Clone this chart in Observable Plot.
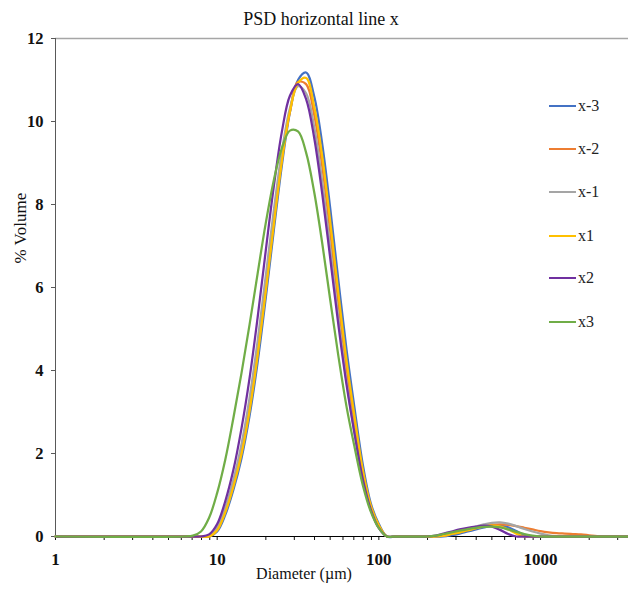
<!DOCTYPE html>
<html>
<head>
<meta charset="utf-8">
<script src="https://cdn.jsdelivr.net/npm/d3@7"></script>
<script src="https://cdn.jsdelivr.net/npm/@observablehq/plot@0.6"></script>
<style>
  html, body { margin: 0; padding: 0; background: #fff; }
  #wrap { position: relative; width: 628px; height: 595px; font-family: "Liberation Serif", "Times New Roman", serif; }
  .lg { position: absolute; left: 549px; height: 20px; display: flex; align-items: center; font-size: 16px; color: #222; }
  .lg span.sw { display: inline-block; width: 27px; height: 2.5px; margin-right: 2px; }
</style>
</head>
<body>
<div id="wrap"></div>
<script>
// Particle diameters (µm)
const diameters = [1,
  6.310, 7.079, 7.943, 8.913,
  10.00, 11.22, 12.59, 14.13, 15.85, 17.78, 19.95, 22.39, 25.12, 28.18,
  31.62, 35.48, 39.81, 44.67, 50.12, 56.23, 63.10, 70.79, 79.43, 89.13,
  100.0, 112.2,
  125.9, 141.3, 158.5, 177.8, 199.5, 223.9,
  251.2, 281.8, 316.2, 354.8, 398.1, 446.7, 501.2, 562.3, 631.0, 707.9, 794.3, 891.3,
  1000, 1122, 1259, 1413, 1585, 1778, 1995, 2239, 2512, 2818, 3162, 3548];

const seriesNames = ["x-3", "x-2", "x-1", "x1", "x2", "x3"];
const seriesColors = ["#4472C4", "#ED7D31", "#A5A5A5", "#FFC000", "#7030A0", "#70AD47"];

const xMinus3 = [0, 0,0,0,0,
  0.12,0.52,1.12,1.88,2.90,4.19,5.73,7.37,8.94,10.22,11.0,11.18,10.61,9.45,7.88,6.16,4.50,3.08,1.75,0.8,0.3,0,
  0,0,0,0,0,0,
  0,0.03,0.07,0.12,0.17,0.22,0.26,0.27,0.22,0.13,0.04,0,
  0,0,0,0,0,0,0,0,0,0,0,0];
const xMinus2 = [0, 0,0,0,0,
  0.18,0.62,1.25,2.06,3.12,4.45,5.99,7.60,9.09,10.24,10.95,10.9,10.17,8.92,7.32,5.63,4.05,2.73,1.55,0.7,0.25,0,
  0,0,0,0,0,0,
  0.02,0.06,0.1,0.15,0.2,0.25,0.28,0.29,0.28,0.25,0.21,0.17,
  0.13,0.1,0.08,0.07,0.06,0.05,0.03,0.01,0,0,0,0];
const xMinus1 = [0, 0,0,0,0.02,
  0.22,0.7,1.36,2.22,3.33,4.70,6.26,7.85,9.27,10.32,10.85,10.68,9.87,8.54,6.92,5.25,3.73,2.48,1.4,0.65,0.22,0,
  0,0,0,0,0,0,
  0.03,0.07,0.12,0.18,0.24,0.29,0.33,0.34,0.31,0.25,0.18,0.12,
  0.07,0.03,0.01,0,0,0,0,0,0,0,0,0];
const xPlus1 = [0, 0,0,0,0,
  0.15,0.58,1.2,1.98,3.02,4.35,5.89,7.51,9.04,10.24,10.93,11.05,10.36,9.15,7.56,5.85,4.24,2.88,1.62,0.75,0.27,0,
  0,0,0,0,0,0,
  0.02,0.06,0.1,0.15,0.2,0.24,0.26,0.24,0.17,0.07,0,0,
  0,0,0,0,0,0,0,0,0,0,0,0];
const xPlus2 = [0, 0,0,0,0.05,
  0.3,0.85,1.6,2.60,3.81,5.27,6.87,8.43,9.75,10.62,10.9,10.54,9.61,8.25,6.68,5.09,3.66,2.47,1.4,0.65,0.2,0,
  0,0,0,0,0,0.02,
  0.07,0.12,0.17,0.21,0.24,0.26,0.24,0.16,0.06,0,0,0,
  0,0,0,0,0,0,0,0,0,0,0,0];
const xPlus3 = [0, 0,0.02,0.12,0.45,
  1.05,1.85,2.85,3.93,5.10,6.33,7.54,8.58,9.36,9.78,9.76,9.25,8.30,7.06,5.68,4.34,3.13,2.15,1.25,0.6,0.2,0,
  0,0,0,0,0,0.02,
  0.06,0.10,0.14,0.18,0.21,0.23,0.24,0.22,0.17,0.11,0.06,0.02,
  0,0,0,0,0,0,0,0,0,0,0,0];

const seriesValues = [xMinus3, xMinus2, xMinus1, xPlus1, xPlus2, xPlus3];

const xMajorTicks = [1, 10, 100, 1000];
const xMinorTicks = [2,3,4,5,6,7,8,9,20,30,40,50,60,70,80,90,200,300,400,500,600,700,800,900,2000,3000];
const yTicks = [0, 2, 4, 6, 8, 10, 12];

const titleText = "PSD horizontal line x";
const xLabel = "Diameter (µm)";
const yLabel = "% Volume";

const data = seriesNames.flatMap((name, s) =>
  diameters.map((d, i) => ({ d, v: seriesValues[s][i], name })));

const chart = Plot.plot({
  width: 628,
  height: 595,
  marginTop: 38,
  marginBottom: 59,
  marginLeft: 55,
  marginRight: 0,
  style: { fontFamily: "Liberation Serif, Times New Roman, serif", background: "white", color: "#111", overflow: "visible" },
  x: { type: "log", domain: [1, 3500] },
  y: { domain: [0, 12] },
  color: { domain: seriesNames, range: seriesColors },
  marks: [
    Plot.ruleY([12], { stroke: "#a6a6a6", strokeWidth: 1.6 }),
    Plot.ruleX([1], { stroke: "#595959", strokeWidth: 1 }),
    Plot.axisY({ ticks: yTicks, tickSize: 4, tickPadding: 8, fontSize: 16.5, fontWeight: "bold", label: null, stroke: "#595959" }),
    Plot.axisX({ ticks: xMinorTicks, tickSize: 4, tickFormat: () => "", label: null }),
    Plot.axisX({ ticks: xMajorTicks, tickSize: 4, tickPadding: 12, fontSize: 17, fontWeight: "bold", tickFormat: d3.format("d"), label: null }),
    Plot.ruleY([0], { stroke: "#000", strokeWidth: 1 }),
    Plot.line(data, { x: "d", y: "v", z: "name", stroke: "name", strokeWidth: 2.25, curve: "catmull-rom" }),
    Plot.text([titleText], { frameAnchor: "top", dx: -21, dy: -26, fontSize: 18, fill: "#111" }),
    Plot.text([xLabel], { frameAnchor: "bottom", dx: -38, dy: 42, fontSize: 16, fill: "#111" }),
    Plot.text([yLabel], { frameAnchor: "left", dx: -35, dy: -24, rotate: -90, fontSize: 17, fill: "#111" })
  ]
});

const wrap = document.getElementById("wrap");
wrap.appendChild(chart);

const legendTops = [106, 149, 192, 236, 278, 322];
seriesNames.forEach((name, i) => {
  const row = document.createElement("div");
  row.className = "lg";
  row.style.top = (legendTops[i] - 10) + "px";
  const sw = document.createElement("span");
  sw.className = "sw";
  sw.style.background = seriesColors[i];
  row.appendChild(sw);
  row.appendChild(document.createTextNode(name));
  wrap.appendChild(row);
});
</script>
</body>
</html>
